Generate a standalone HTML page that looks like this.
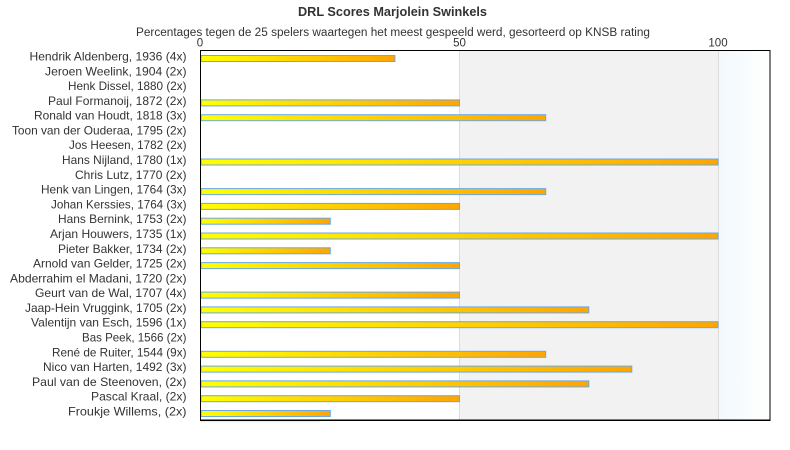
<!DOCTYPE html>
<html><head><meta charset="utf-8"><style>
html,body{margin:0;padding:0;background:#fff;}
svg{display:block;}
text{font-family:"Liberation Sans","DejaVu Sans",sans-serif;}
</style></head><body>
<svg width="790" height="450" viewBox="0 0 790 450" xmlns="http://www.w3.org/2000/svg">
<defs>
<linearGradient id="bg" x1="0" y1="0" x2="1" y2="0">
<stop offset="0" stop-color="#f2f8fc"/><stop offset="1" stop-color="#ffffff"/>
</linearGradient>
<linearGradient id="bar" x1="0" y1="0" x2="1" y2="0">
<stop offset="0" stop-color="#ffff00"/><stop offset="1" stop-color="#ffa500"/>
</linearGradient>
</defs>
<rect x="0" y="0" width="790" height="450" fill="#fff"/>
<text x="392.5" y="16" font-size="12.5" font-weight="bold" fill="#333" text-anchor="middle" textLength="189" lengthAdjust="spacingAndGlyphs">DRL Scores Marjolein Swinkels</text>
<text x="393" y="36" font-size="11.5" fill="#333" text-anchor="middle" textLength="514" lengthAdjust="spacingAndGlyphs">Percentages tegen de 25 spelers waartegen het meest gespeeld werd, gesorteerd op KNSB rating</text>
<g font-size="11.5" fill="#333" text-anchor="middle">
<text x="200" y="46.5">0</text>
<text x="459.5" y="46.5">50</text>
<text x="718" y="46.5">100</text>
</g>
<rect x="459.5" y="50" width="258.5" height="370" fill="#f2f2f2"/>
<rect x="718" y="50" width="52" height="370" fill="url(#bg)"/>
<line x1="459.5" y1="50" x2="459.5" y2="420" stroke="#dcdcdc" stroke-width="1"/>
<line x1="718.5" y1="50" x2="718.5" y2="420" stroke="#dcdcdc" stroke-width="1"/>
<g stroke="#6aa8e6" stroke-width="1" fill="url(#bar)">
<rect x="201" y="55.5" width="193.9" height="6"/>
<rect x="201" y="99.9" width="258.5" height="6"/>
<rect x="201" y="114.7" width="344.7" height="6"/>
<rect x="201" y="159.0" width="517" height="6"/>
<rect x="201" y="188.6" width="344.7" height="6"/>
<rect x="201" y="203.4" width="258.5" height="6"/>
<rect x="201" y="218.2" width="129.3" height="6"/>
<rect x="201" y="233.0" width="517" height="6"/>
<rect x="201" y="247.8" width="129.3" height="6"/>
<rect x="201" y="262.6" width="258.5" height="6"/>
<rect x="201" y="292.1" width="258.5" height="6"/>
<rect x="201" y="306.9" width="387.8" height="6"/>
<rect x="201" y="321.7" width="517" height="6"/>
<rect x="201" y="351.3" width="344.7" height="6"/>
<rect x="201" y="366.1" width="430.8" height="6"/>
<rect x="201" y="380.9" width="387.8" height="6"/>
<rect x="201" y="395.7" width="258.5" height="6"/>
<rect x="201" y="410.5" width="129.3" height="6"/>
</g>
<rect x="200.5" y="50.5" width="569.5" height="369.5" fill="none" stroke="#000" stroke-width="1"/>
<line x1="200" y1="420.3" x2="770.5" y2="420.3" stroke="#000" stroke-width="1.4"/>
<line x1="200" y1="421.8" x2="320" y2="421.8" stroke="#d8eaf8" stroke-width="1"/>
<g font-size="12" fill="#333" text-anchor="end" lengthAdjust="spacingAndGlyphs">
<text x="186.5" y="60.5" textLength="157" lengthAdjust="spacingAndGlyphs">Hendrik Aldenberg, 1936 (4x)</text>
<text x="186.5" y="75.3" textLength="141.5" lengthAdjust="spacingAndGlyphs">Jeroen Weelink, 1904 (2x)</text>
<text x="186.5" y="90.1" textLength="118.5" lengthAdjust="spacingAndGlyphs">Henk Dissel, 1880 (2x)</text>
<text x="186.5" y="104.9" textLength="138.5" lengthAdjust="spacingAndGlyphs">Paul Formanoij, 1872 (2x)</text>
<text x="186.5" y="119.7" textLength="152.5" lengthAdjust="spacingAndGlyphs">Ronald van Houdt, 1818 (3x)</text>
<text x="186.5" y="134.5" textLength="174.5" lengthAdjust="spacingAndGlyphs">Toon van der Ouderaa, 1795 (2x)</text>
<text x="186.5" y="149.2" textLength="117.5" lengthAdjust="spacingAndGlyphs">Jos Heesen, 1782 (2x)</text>
<text x="186.5" y="164.0" textLength="124.5" lengthAdjust="spacingAndGlyphs">Hans Nijland, 1780 (1x)</text>
<text x="186.5" y="178.8" textLength="111.5" lengthAdjust="spacingAndGlyphs">Chris Lutz, 1770 (2x)</text>
<text x="186.5" y="193.6" textLength="145.5" lengthAdjust="spacingAndGlyphs">Henk van Lingen, 1764 (3x)</text>
<text x="186.5" y="208.4" textLength="135.5" lengthAdjust="spacingAndGlyphs">Johan Kerssies, 1764 (3x)</text>
<text x="186.5" y="223.2" textLength="128.5" lengthAdjust="spacingAndGlyphs">Hans Bernink, 1753 (2x)</text>
<text x="186.5" y="238.0" textLength="136.5" lengthAdjust="spacingAndGlyphs">Arjan Houwers, 1735 (1x)</text>
<text x="186.5" y="252.8" textLength="128.5" lengthAdjust="spacingAndGlyphs">Pieter Bakker, 1734 (2x)</text>
<text x="186.5" y="267.6" textLength="153.5" lengthAdjust="spacingAndGlyphs">Arnold van Gelder, 1725 (2x)</text>
<text x="186.5" y="282.4" textLength="176.5" lengthAdjust="spacingAndGlyphs">Abderrahim el Madani, 1720 (2x)</text>
<text x="186.5" y="297.1" textLength="151.5" lengthAdjust="spacingAndGlyphs">Geurt van de Wal, 1707 (4x)</text>
<text x="186.5" y="311.9" textLength="161.5" lengthAdjust="spacingAndGlyphs">Jaap-Hein Vruggink, 1705 (2x)</text>
<text x="186.5" y="326.7" textLength="155.5" lengthAdjust="spacingAndGlyphs">Valentijn van Esch, 1596 (1x)</text>
<text x="186.5" y="341.5" textLength="104.5" lengthAdjust="spacingAndGlyphs">Bas Peek, 1566 (2x)</text>
<text x="186.5" y="356.3" textLength="134.5" lengthAdjust="spacingAndGlyphs">René de Ruiter, 1544 (9x)</text>
<text x="186.5" y="371.1" textLength="143.5" lengthAdjust="spacingAndGlyphs">Nico van Harten, 1492 (3x)</text>
<text x="186.5" y="385.9" textLength="154.5" lengthAdjust="spacingAndGlyphs">Paul van de Steenoven,  (2x)</text>
<text x="186.5" y="400.7" textLength="95.5" lengthAdjust="spacingAndGlyphs">Pascal Kraal,  (2x)</text>
<text x="186.5" y="415.5" textLength="118.5" lengthAdjust="spacingAndGlyphs">Froukje Willems,  (2x)</text>
</g>
</svg>
</body></html>
